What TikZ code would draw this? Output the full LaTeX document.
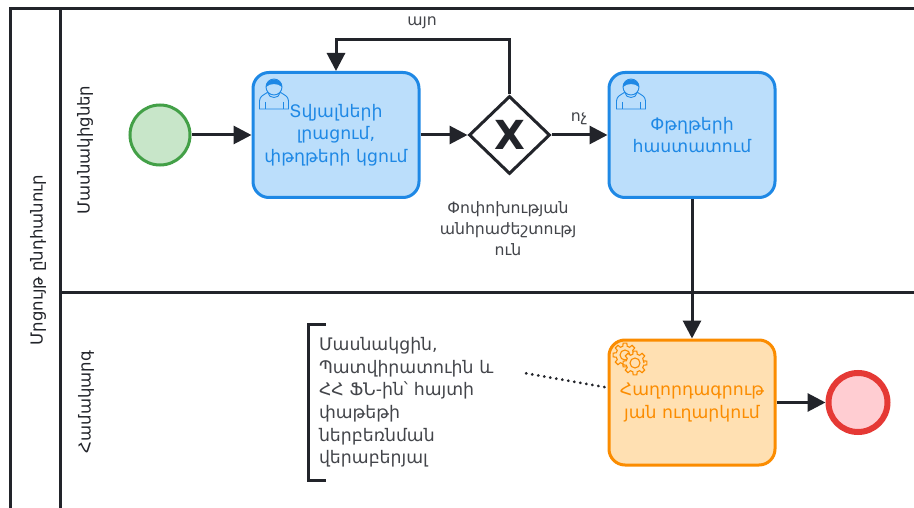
\documentclass[tikz,border=0pt]{standalone}
\usepackage{fontspec}
\setmainfont{DejaVu Sans}
\usetikzlibrary{arrows.meta,shapes.geometric}
\definecolor{linecol}{HTML}{22242A}
\definecolor{bluedraw}{HTML}{1E88E5}
\definecolor{bluefill}{HTML}{BBDEFB}
\definecolor{orangedraw}{HTML}{FB8C00}
\definecolor{orangefill}{HTML}{FFE0B2}
\definecolor{greendraw}{HTML}{43A047}
\definecolor{greenfill}{HTML}{C8E6C9}
\definecolor{reddraw}{HTML}{E53935}
\definecolor{redfill}{HTML}{FFCDD2}
\tikzset{
  >={Triangle[length=18pt,width=18pt]},
  flowline/.style={->,draw=linecol,line width=3pt},
  poolline/.style={draw=linecol,line width=3pt},
  txt/.style={font=\fontsize{16.5}{22}\selectfont,text=linecol,align=center,inner sep=0pt},
  smalltxt/.style={font=\fontsize{15.7}{21}\selectfont,text=linecol!85,align=center,inner sep=0pt},
  taskbox/.style={draw,line width=3pt,rounded corners=16pt,minimum width=166pt,minimum height=125pt,
    align=center,inner sep=0pt,font=\fontsize{17.3}{22.4}\selectfont},
  usertask/.style={taskbox,draw=bluedraw,fill=bluefill,text=bluedraw},
  sendtask/.style={taskbox,draw=orangedraw,fill=orangefill,text=orangedraw},
  usericon/.pic={
    \draw[bluedraw,line width=.9pt,fill=bluefill] (.5,31) -- (.5,23) .. controls (.5,18) and (5,17) .. (9,14)
      -- (21,14) .. controls (25,17) and (29.5,18) .. (29.5,23) -- (29.5,31) -- cycle;
    \draw[bluedraw,line width=.9pt,fill=bluefill] (15,9) circle (8);
    \fill[bluedraw] (7,9) .. controls (7,-1) and (23,-1) .. (23,9) .. controls (19,5) and (11,5) .. (7,9) -- cycle;
    \draw[bluedraw,line width=.9pt] (9,15) .. controls (10,21) and (20,21) .. (21,15);
    \draw[bluedraw,line width=.9pt] (6,24) -- (6,31) (24,24) -- (24,31);
  },
  gearicon/.pic={
    \draw[orangedraw,line width=1.1pt,fill=orangefill] (0:9)
      \foreach \a in {0,45,...,315} { -- (\a-14:9) -- (\a-9:12) -- (\a+9:12) -- (\a+14:9) } -- cycle;
    \draw[orangedraw,line width=1.1pt] (0,0) circle (5);
  },
}
\begin{document}
\begin{tikzpicture}[x=1pt,y=-1pt]
  \useasboundingbox (0,0) rectangle (914,508);
  \fill[white] (0,0) rectangle (914,508);
  % pool and lanes
  \draw[poolline] (914,8.5) -- (10,8.5) -- (10,508);
  \draw[poolline] (60,8.5) -- (60,508);
  \draw[poolline] (60,292.5) -- (914,292.5);
  \node[txt,rotate=90] (poollabel) at (38,260) {Մրցույթ ընդհանուր};
  \node[txt,rotate=90] (lanea) at (85,150) {Մասնակիցներ};
  \node[txt,rotate=90] (laneb) at (86,402) {Համակարգ};

  \node[circle,draw=greendraw,fill=greenfill,line width=3pt,minimum size=60pt,inner sep=0pt] (start) at (160,135) {};
  \node[usertask] (fill) at (336,135) {Տվյալների\\լրացում,\\փթղթերի կցում};
  \node[diamond,draw=linecol,fill=white,line width=3pt,minimum width=81pt,minimum height=78pt,inner sep=0pt,
    font=\bfseries\fontsize{40}{40}\selectfont,text=linecol] (gate) at (509.5,135) {X};
  \node[usertask] (confirm) at (692,135) {Փթղթերի\\հաստատում};
  \node[sendtask] (send) at (692,402.5) {Հաղորդագրութ\\յան ուղարկում};
  \node[circle,draw=reddraw,fill=redfill,line width=6pt,minimum size=59pt,inner sep=0pt] (stop) at (858,402.5) {};

  \pic at (259,78) {usericon};
  \pic at (616,78) {usericon};
  \pic at (625,355) {gearicon};
  \pic at (635,363) {gearicon};

  \coordinate (looptop) at (420,40);
  \draw[flowline] (start) -- (fill);
  \draw[flowline] (fill) -- (gate);
  \draw[flowline] (gate) -- (confirm);
  \draw[flowline] (gate.north) |- (looptop) -| (fill.north);
  \draw[flowline] (confirm) -- (send);
  \draw[flowline] (send) -- (stop);

  \node[smalltxt] (yes) at (422,23) {այո};
  \node[smalltxt] (no) at (579,119) {ոչ};
  \node[smalltxt] (gatelabel) at (508,229) {Փոփոխության\\անհրաժեշտությ\\ուն};

  % annotation
  \node[inner xsep=10pt,inner ysep=0pt,minimum width=217pt,minimum height=155pt,text width=197pt,align=left,
    font=\fontsize{17.3}{22.6}\selectfont,text=linecol!85] (note) at (417.5,402.5)
    {Մասնակցին,\\Պատվիրատուին և\\ՀՀ ՖՆ-ին՝ հայտի\\փաթեթի\\ներբեռնման\\վերաբերյալ};
  \draw[poolline] ([xshift=17pt]note.north west) -- (note.north west) -- (note.south west) -- ([xshift=17pt]note.south west);
  \draw[draw=linecol,line width=3pt,line cap=round,dash pattern=on .1pt off 6pt] (note.15.7) -- (send.170);
\end{tikzpicture}
\end{document}
